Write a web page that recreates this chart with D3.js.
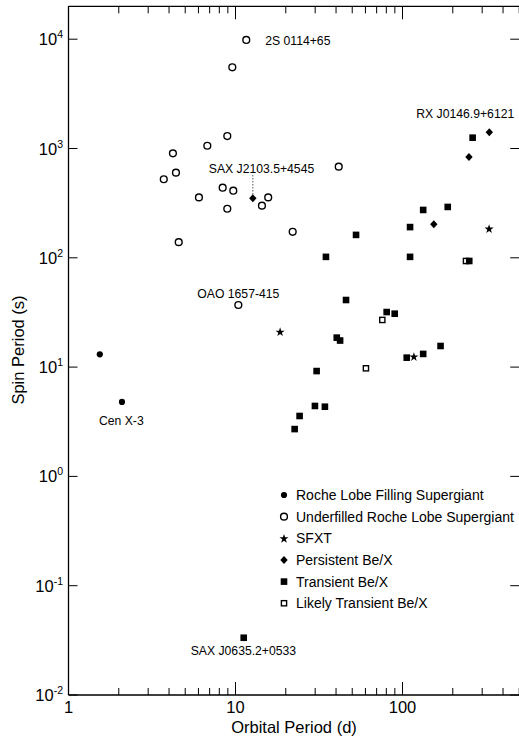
<!DOCTYPE html>
<html><head><meta charset="utf-8">
<script src="https://cdn.jsdelivr.net/npm/d3@7"></script>
<style>
html,body{margin:0;padding:0;background:#fff;}
svg{display:block;font-family:"Liberation Sans",Arial,sans-serif;}
</style></head>
<body>
<svg id="chart" width="519" height="736"></svg>
<script>
// ---- data (orbital period in days, spin period in s) ----
const rocheFillOrb = [1.54, 2.09];
const rocheFillSpin = [13.1, 4.8];
const underfilledOrb = [11.6, 9.57, 8.93, 6.78, 4.22, 4.40, 3.72, 8.38, 9.70, 6.04, 8.93, 4.57, 14.4, 15.7, 41.5, 22.0, 10.4];
const underfilledSpin = [9840, 5530, 1300, 1060, 903, 601, 523, 438, 411, 357, 281, 139, 300, 357, 682, 173, 37.0];
const sfxtOrb = [18.5, 117, 330];
const sfxtSpin = [21.1, 12.5, 185];
const persistentOrb = [12.7, 154, 250, 331];
const persistentSpin = [350, 203, 836, 1407];
const transientOrb = [52.7, 111, 133, 186.6, 263, 34.8, 111, 251, 45.9, 80.4, 89.8, 40.4, 42.3, 169, 133, 106, 30.6, 29.9, 34.3, 24.2, 22.6, 11.2];
const transientSpin = [162, 191, 274, 292, 1256, 102, 102, 93.5, 41.1, 31.9, 30.8, 18.6, 17.5, 15.6, 13.2, 12.2, 9.2, 4.41, 4.34, 3.57, 2.71, 0.0334];
const likelyOrb = [240, 75.7, 60.4];
const likelySpin = [93.5, 27.0, 9.75];
const legendLabels = ["Roche Lobe Filling Supergiant", "Underfilled Roche Lobe Supergiant", "SFXT", "Persistent Be/X", "Transient Be/X", "Likely Transient Be/X"];
const xTickValues = [1, 10, 100];
const xTickLabels = ["1", "10", "100"];
const yExponents = [-2, -1, 0, 1, 2, 3, 4];
const annotNames = ["2S 0114+65", "SAX J2103.5+4545", "RX J0146.9+6121", "OAO 1657-415", "Cen X-3", "SAX J0635.2+0533"];
const annotOrb = [11.6, 12.7, 331, 10.4, 2.09, 11.2];
const annotSpin = [9840, 350, 1407, 37.0, 4.8, 0.0334];

// ---- layout ----
const svg = d3.select("#chart");
const L = 68.5, B = 695, T = 6.3;
const x = d3.scaleLog().domain([1, 500]).range([L, L + 167 * Math.log10(500)]);
const y = d3.scaleLog().domain([0.01, 20000]).range([B, T]);
const R = x.range()[1];

// frame
svg.append("g").attr("stroke", "#000").attr("stroke-width", 1.3).attr("fill", "none")
  .call(g => {
    g.append("line").attr("x1", L).attr("x2", L).attr("y1", T).attr("y2", B);
    g.append("line").attr("x1", L).attr("x2", R).attr("y1", B).attr("y2", B);
    g.append("line").attr("x1", L).attr("x2", R).attr("y1", T).attr("y2", T);
  });

// x ticks (bottom & top, inward)
const xMinor = x.ticks().filter(v => !xTickValues.includes(v) && v <= 500);
const tickG = svg.append("g").attr("stroke", "#000").attr("stroke-width", 1);
xMinor.forEach(v => {
  tickG.append("line").attr("x1", x(v)).attr("x2", x(v)).attr("y1", B).attr("y2", B - 7);
  tickG.append("line").attr("x1", x(v)).attr("x2", x(v)).attr("y1", T).attr("y2", T + 7);
});
xTickValues.forEach(v => {
  tickG.append("line").attr("x1", x(v)).attr("x2", x(v)).attr("y1", B).attr("y2", B - 13);
  tickG.append("line").attr("x1", x(v)).attr("x2", x(v)).attr("y1", T).attr("y2", T + 13);
});
// y ticks (left & right, inward)
yExponents.forEach(e => {
  const yy = y(Math.pow(10, e));
  tickG.append("line").attr("x1", L).attr("x2", L + 9).attr("y1", yy).attr("y2", yy);
  tickG.append("line").attr("x1", R).attr("x2", R - 9).attr("y1", yy).attr("y2", yy);
});

// x tick labels
xTickValues.forEach((v, i) => {
  svg.append("text").attr("x", x(v)).attr("y", 713).attr("text-anchor", "middle")
    .attr("font-size", 16.5).text(xTickLabels[i]);
});
// y tick labels
yExponents.forEach(e => {
  const yy = y(Math.pow(10, e));
  const t = svg.append("text").attr("x", 63).attr("y", yy + 6).attr("text-anchor", "end").attr("font-size", 16.5);
  t.append("tspan").text("10");
  t.append("tspan").attr("font-size", 10.5).attr("dy", -7).text(String(e));
});

// axis titles
svg.append("text").attr("x", 294).attr("y", 733).attr("text-anchor", "middle")
  .attr("font-size", 16.5).text("Orbital Period (d)");
svg.append("text").attr("transform", "translate(24,350) rotate(-90)").attr("text-anchor", "middle")
  .attr("font-size", 16.5).text("Spin Period (s)");

// ---- markers ----
const starPath = d3.symbol(d3.symbolStar, 26)();
function drawMarker(g, type, cx, cy) {
  if (type === 0) {
    g.append("circle").attr("cx", cx).attr("cy", cy).attr("r", 3.1).attr("fill", "#000");
  } else if (type === 1) {
    g.append("circle").attr("cx", cx).attr("cy", cy).attr("r", 3.4).attr("fill", "#fff")
      .attr("stroke", "#000").attr("stroke-width", 1.4);
  } else if (type === 2) {
    g.append("path").attr("d", starPath)
      .attr("transform", `translate(${cx},${cy + 0.5})`).attr("fill", "#000");
  } else if (type === 3) {
    const w = 3.7, h = 4.0;
    g.append("path").attr("d", `M${cx},${cy - h}L${cx + w},${cy}L${cx},${cy + h}L${cx - w},${cy}Z`).attr("fill", "#000");
  } else if (type === 4) {
    g.append("rect").attr("x", cx - 3.3).attr("y", cy - 3.3).attr("width", 6.6).attr("height", 6.6).attr("fill", "#000");
  } else if (type === 5) {
    g.append("rect").attr("x", cx - 2.6).attr("y", cy - 2.6).attr("width", 5.2).attr("height", 5.2)
      .attr("fill", "#fff").attr("stroke", "#000").attr("stroke-width", 1.4);
  }
}
const seriesList = [
  [rocheFillOrb, rocheFillSpin, 0],
  [underfilledOrb, underfilledSpin, 1],
  [sfxtOrb, sfxtSpin, 2],
  [persistentOrb, persistentSpin, 3],
  [likelyOrb, likelySpin, 5],
  [transientOrb, transientSpin, 4]
];
const markG = svg.append("g");
seriesList.forEach(([xs, ys, type]) => {
  xs.forEach((v, i) => drawMarker(markG, type, x(v), y(ys[i])));
});

// ---- annotations ----
const annotOffsets = [[19, 1], [-44, -30], [-73, -19], [-41, -11], [-23, 19], [-53, 13]];
annotNames.forEach((name, i) => {
  svg.append("text").attr("x", x(annotOrb[i]) + annotOffsets[i][0])
    .attr("y", y(annotSpin[i]) + annotOffsets[i][1]).attr("dy", "0.35em")
    .attr("font-size", 12.2).text(name);
});
// dotted leader for SAX J2103.5+4545
svg.append("line").attr("x1", x(annotOrb[1])).attr("x2", x(annotOrb[1]))
  .attr("y1", y(annotSpin[1]) - 4).attr("y2", y(annotSpin[1]) - 23)
  .attr("stroke", "#000").attr("stroke-width", 1).attr("stroke-dasharray", "1,2");

// ---- legend ----
const legTypes = [0, 1, 2, 3, 4, 5];
legendLabels.forEach((lab, i) => {
  const cy = 495 + i * 21.65;
  drawMarker(svg, legTypes[i], 284, cy);
  svg.append("text").attr("x", 296).attr("y", cy).attr("dy", "0.36em").attr("font-size", 14).text(lab);
});
</script>
</body></html>
